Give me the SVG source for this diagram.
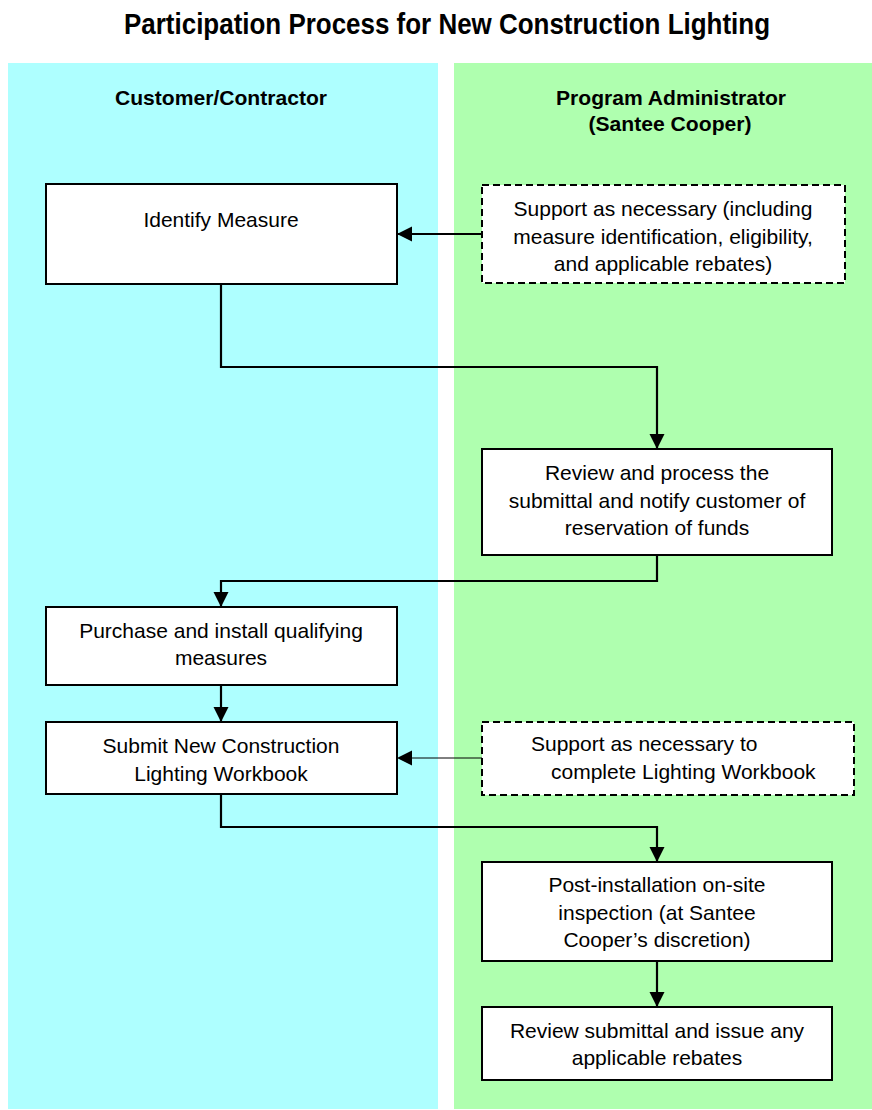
<svg xmlns="http://www.w3.org/2000/svg" width="872" height="1110" viewBox="0 0 872 1110">
<style>
.title{font-family:"Liberation Sans",Arial,sans-serif;font-weight:bold;font-size:30px;fill:#000;text-anchor:middle}
.lane{font-family:"Liberation Sans",Arial,sans-serif;font-weight:bold;font-size:21px;fill:#000;text-anchor:middle}
.t{font-family:"Liberation Sans",Arial,sans-serif;font-size:21px;fill:#000;text-anchor:middle}
.ts{font-family:"Liberation Sans",Arial,sans-serif;font-size:21px;fill:#000}
.box{fill:#fff;stroke:#000;stroke-width:2}
.dbox{fill:#fff;stroke:#000;stroke-width:2;stroke-dasharray:7 4}
.conn{fill:none;stroke:#000;stroke-width:2.2}
.thin{fill:none;stroke:#000;stroke-width:1}
</style>
<defs>
<marker id="ah" markerUnits="userSpaceOnUse" markerWidth="16" markerHeight="16" refX="15" refY="7.5" orient="auto">
<path d="M0,0 L15,7.5 L0,15 z" fill="#000"/>
</marker>
</defs>
<rect x="0" y="0" width="872" height="1110" fill="#fff"/>
<text class="title" x="447" y="34" textLength="646" lengthAdjust="spacingAndGlyphs">Participation Process for New Construction Lighting</text>
<g id="lane-customer">
<rect x="8" y="63" width="430" height="1046" fill="#AEFFFF"/>
<text class="lane" x="221" y="105" textLength="212" lengthAdjust="spacingAndGlyphs">Customer/Contractor</text>
</g>
<g id="lane-admin">
<rect x="454" y="63" width="418" height="1046" fill="#AFFFAF"/>
<text class="lane" x="671" y="105" textLength="230" lengthAdjust="spacingAndGlyphs">Program Administrator</text>
<text class="lane" x="670" y="131" textLength="163" lengthAdjust="spacingAndGlyphs">(Santee Cooper)</text>
</g>
<g id="connectors">
<path class="conn" d="M482,234 L397,234" marker-end="url(#ah)"/>
<path class="conn" d="M221,284 L221,367 L657,367 L657,449" marker-end="url(#ah)"/>
<path class="conn" d="M657,555 L657,581 L221,581 L221,607" marker-end="url(#ah)"/>
<path class="conn" d="M221,685 L221,722" marker-end="url(#ah)"/>
<path class="thin" d="M482,758 L405,758"/>
<path d="M397,758 L412,750.5 L412,765.5 z" fill="#000"/>
<path class="conn" d="M221,794 L221,827 L657,827 L657,862" marker-end="url(#ah)"/>
<path class="conn" d="M657,961 L657,1007" marker-end="url(#ah)"/>
</g>
<g id="n-identify">
<rect class="box" x="46" y="184" width="351" height="100"/>
<text class="t" x="221" y="227">Identify Measure</text>
</g>
<g id="n-support1">
<rect class="dbox" x="482" y="185" width="363" height="98"/>
<text class="t" x="663" y="216">Support as necessary (including</text>
<text class="t" x="663" y="243.5">measure identification, eligibility,</text>
<text class="t" x="663" y="271">and applicable rebates)</text>
</g>
<g id="n-review">
<rect class="box" x="482" y="449" width="350" height="106"/>
<text class="t" x="657" y="480">Review and process the</text>
<text class="t" x="657" y="508">submittal and notify customer of</text>
<text class="t" x="657" y="535">reservation of funds</text>
</g>
<g id="n-purchase">
<rect class="box" x="46" y="607" width="351" height="78"/>
<text class="t" x="221" y="638">Purchase and install qualifying</text>
<text class="t" x="221" y="665">measures</text>
</g>
<g id="n-submit">
<rect class="box" x="46" y="722" width="351" height="72"/>
<text class="t" x="221" y="753">Submit New Construction</text>
<text class="t" x="221" y="781">Lighting Workbook</text>
</g>
<g id="n-support2">
<rect class="dbox" x="482" y="722" width="372" height="73"/>
<text class="ts" x="531" y="751">Support as necessary to</text>
<text class="ts" x="551" y="779">complete Lighting Workbook</text>
</g>
<g id="n-inspect">
<rect class="box" x="482" y="862" width="350" height="99"/>
<text class="t" x="657" y="892">Post-installation on-site</text>
<text class="t" x="657" y="920">inspection (at Santee</text>
<text class="t" x="657" y="947">Cooper’s discretion)</text>
</g>
<g id="n-rebates">
<rect class="box" x="482" y="1007" width="350" height="73"/>
<text class="t" x="657" y="1038">Review submittal and issue any</text>
<text class="t" x="657" y="1065">applicable rebates</text>
</g>
</svg>
